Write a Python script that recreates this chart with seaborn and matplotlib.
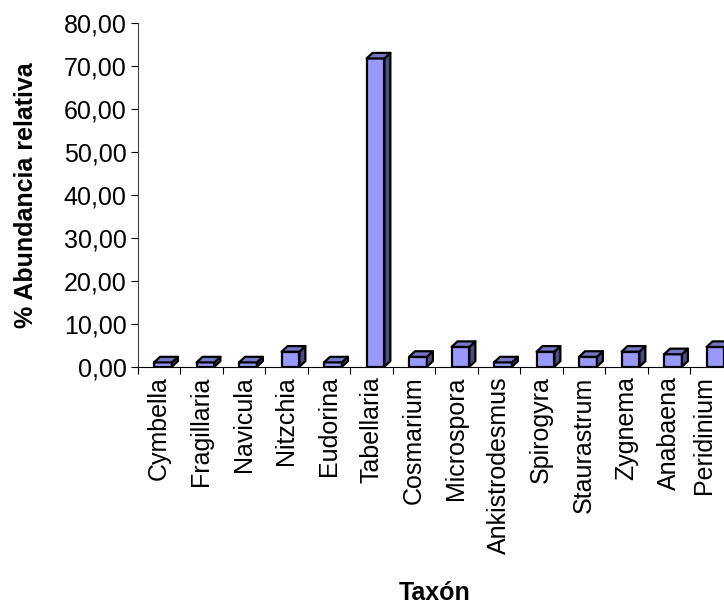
import numpy as np
import pandas as pd
import matplotlib
matplotlib.use("Agg")
import matplotlib.pyplot as plt
import seaborn as sns
from matplotlib.patches import Polygon
from matplotlib.ticker import FuncFormatter
from matplotlib.transforms import ScaledTranslation

# Relative abundance (%) per taxon
taxa = ["Cymbella", "Fragillaria", "Navicula", "Nitzchia", "Eudorina",
        "Tabellaria", "Cosmarium", "Microspora", "Ankistrodesmus",
        "Spirogyra", "Staurastrum", "Zygnema", "Anabaena", "Peridinium"]
abundancia = [1.0, 1.0, 1.0, 3.5, 1.0, 71.8, 2.3, 4.6, 1.0, 3.5, 2.3, 3.5, 2.9, 4.6]

sns.set_theme(style="white")
plt.rcParams["font.family"] = ["Liberation Sans", "DejaVu Sans"]

FRONT = "#9999FF"
TOP = "#7676C6"
SIDE = "#4C4C80"
EDGE_W = 1.6

W, H = 724, 609
fig = plt.figure(figsize=(W / 100, H / 100), dpi=100)
ax = fig.add_axes([137.5 / W, (H - 366.7) / H, 595 / W, 343.4 / H])

df = pd.DataFrame({"Taxón": taxa, "Abundancia": abundancia})
sns.barplot(data=df, x="Taxón", y="Abundancia", ax=ax, color=FRONT,
            saturation=1, width=0.42, edgecolor="black", linewidth=EDGE_W,
            errorbar=None, zorder=3)

ax.set_xlim(-0.5, 13.5)
ax.set_ylim(0, 80)

# pseudo-3D columns: shift front faces and add top / side faces
shift = 0.1
dx, dy = 0.14, 1.3
for p in list(ax.patches):
    p.set_x(p.get_x() + shift)
    p.set_joinstyle("round")
    x0, w, h = p.get_x(), p.get_width(), p.get_height()
    x1 = x0 + w
    side = Polygon([(x1, 0), (x1 + dx, dy), (x1 + dx, h + dy), (x1, h)],
                   closed=True, facecolor=SIDE, edgecolor="black",
                   linewidth=EDGE_W, zorder=3, joinstyle="round")
    top = Polygon([(x0, h), (x0 + dx, h + dy), (x1 + dx, h + dy), (x1, h)],
                  closed=True, facecolor=TOP, edgecolor="black",
                  linewidth=EDGE_W, zorder=3, joinstyle="round")
    ax.add_patch(side)
    ax.add_patch(top)

# axes styling
sns.despine(ax=ax)
ax.spines["left"].set_color("#404040")
ax.spines["bottom"].set_color("black")
for s in ("left", "bottom"):
    ax.spines[s].set_linewidth(0.8)

ax.set_yticks(np.arange(0, 81, 10))
ax.yaxis.set_major_formatter(FuncFormatter(lambda v, _: f"{v:.2f}".replace(".", ",")))
ax.tick_params(axis="y", which="major", left=True, direction="out", length=5,
               width=0.8, color="black", labelsize=18, pad=3, labelcolor="black")

ax.set_xticks(np.arange(-0.5, 14, 1), minor=True)
ax.tick_params(axis="x", which="minor", bottom=True, direction="out", length=5,
               width=0.8, color="black")
ax.tick_params(axis="x", which="major", bottom=True, length=0, labelsize=18,
               pad=7, labelcolor="black")
ax.set_xticks(range(len(taxa)))
ax.set_xticklabels(taxa, rotation=90)

ax.set_ylabel("% Abundancia relativa", fontsize=18, fontweight="bold", color="black")
ax.yaxis.set_label_coords(-0.168, 0.5)
ax.set_xlabel("Taxón", fontsize=18, fontweight="bold", color="black")
ax.xaxis.set_label_coords(0.5, -0.624)

# keep the last category label inside the canvas
last = ax.get_xticklabels()[-1]
last.set_transform(last.get_transform() + ScaledTranslation(-0.075, 0, fig.dpi_scale_trans))

fig.savefig("out.png", dpi=100, facecolor="white")
